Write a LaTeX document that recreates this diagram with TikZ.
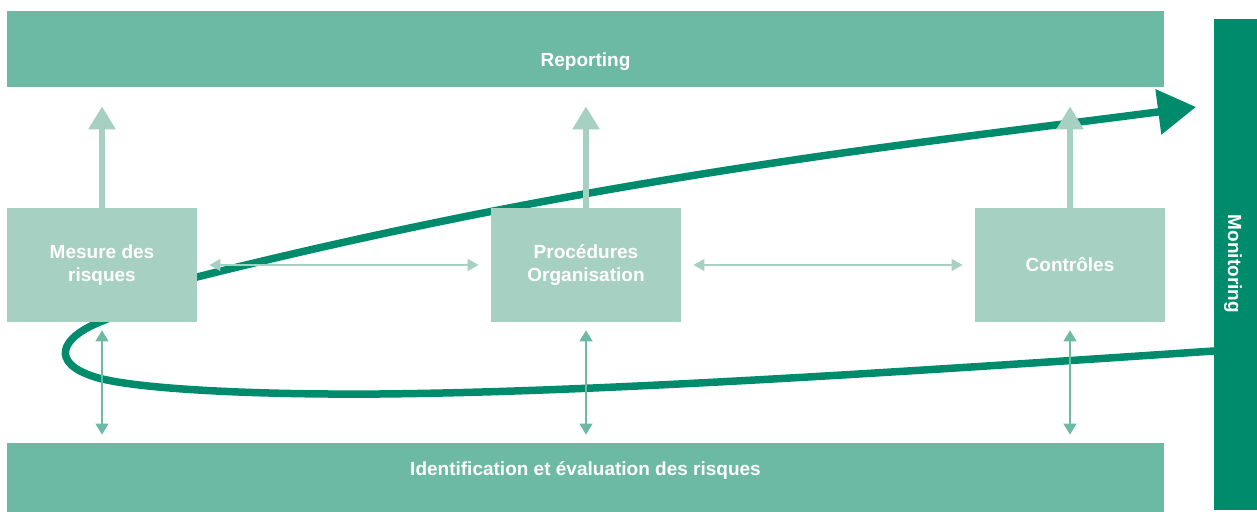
\documentclass[tikz,border=0pt]{standalone}
\usepackage{fontspec}
\setmainfont{Liberation Sans}
\usetikzlibrary{arrows.meta}

\definecolor{barGreen}{HTML}{6DBAA4}
\definecolor{boxGreen}{HTML}{A6D0C2}
\definecolor{darkGreen}{HTML}{008C6C}

\begin{document}
\begin{tikzpicture}[x=0.5pt, y=-0.5pt,
    labelfont/.style={font=\bfseries\fontsize{9.5}{11.5}\selectfont, text=white},
    bar/.style={fill=barGreen, draw=none, inner sep=0pt, minimum width=578.5pt},
    riskbox/.style={fill=boxGreen, draw=none, inner sep=0pt, align=center,
        minimum width=95pt, minimum height=57pt, labelfont},
    uparrow/.style={draw=boxGreen, line width=3pt, shorten >=9.5pt,
        -{Triangle[length=11.5pt, width=13pt]}},
    linkarrow/.style={draw=boxGreen, line width=0.6pt, shorten <=6pt, shorten >=6pt,
        {Triangle[length=5.5pt, width=6pt]}-{Triangle[length=5.5pt, width=6pt]}},
    downarrow/.style={draw=barGreen, line width=0.75pt, shorten <=4pt, shorten >=4pt,
        {Triangle[length=5.5pt, width=6.5pt]}-{Triangle[length=5.5pt, width=6.5pt]}},
    loopline/.style={draw=darkGreen, line width=3.75pt,
        -{Triangle[length=19pt, width=22pt]}}]

    \useasboundingbox (0,0) rectangle (1257,512);

    % big loop, drawn first so that the boxes lie over it
    \draw[loopline] (1214,351) .. controls (900,372) and (600,392) .. (380,394)
        .. controls (240,395) and (130,388) .. (95,377)
        .. controls (50,363) and (60,338) .. (100,322)
        .. controls (140,306) and (160,287) .. (197,277)
        .. controls (597,177) and (896,146) .. (1196,107);

    % bars
    \node[bar, minimum height=38pt] (reporting) at (585.5,49) {};
    \node[labelfont, anchor=base] (reportingtext) at (585.5,67) {Reporting};
    \node[bar, minimum height=34.5pt] (ident) at (585.5,477.5) {};
    \node[labelfont, anchor=base] (identtext) at (585.5,475) {Identification et évaluation des risques};
    \node[fill=darkGreen, draw=none, inner sep=0pt, minimum width=21.5pt, minimum height=245.5pt] (monitoring) at (1235.5,264.5) {};
    \node[labelfont, anchor=base, rotate=-90] (monitoringtext) at (1228,264) {Monitoring};

    % boxes
    \node[riskbox] (mesure) at (102,265) {Mesure des\\risques};
    \node[riskbox] (procedures) at (586,265) {Procédures\\Organisation};
    \node[riskbox] (controles) at (1070,265) {Contrôles};

    % arrows up to the reporting
    \draw[uparrow] (mesure.north) -- (mesure.north |- reporting.south);
    \draw[uparrow] (procedures.north) -- (procedures.north |- reporting.south);
    \draw[uparrow] (controles.north) -- (controles.north |- reporting.south);

    % links between the boxes
    \draw[linkarrow] (mesure.east) -- (procedures.west);
    \draw[linkarrow] (procedures.east) -- (controles.west);

    % links down to the identification
    \draw[downarrow] (mesure.south) -- (mesure.south |- ident.north);
    \draw[downarrow] (procedures.south) -- (procedures.south |- ident.north);
    \draw[downarrow] (controles.south) -- (controles.south |- ident.north);

\end{tikzpicture}
\end{document}
